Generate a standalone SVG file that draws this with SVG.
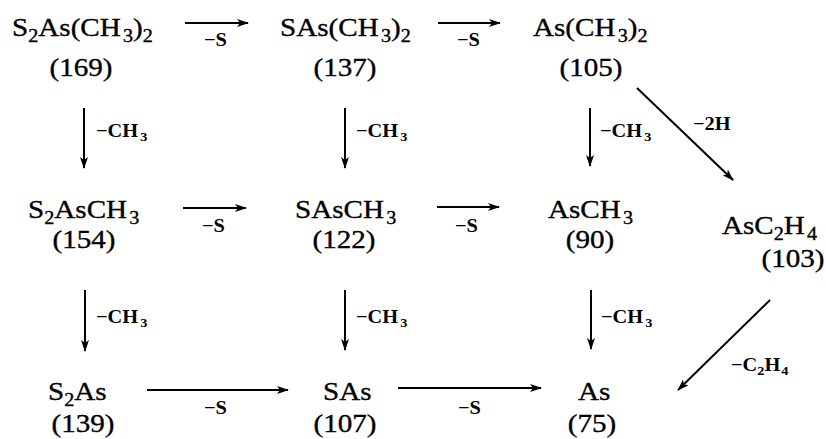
<svg xmlns="http://www.w3.org/2000/svg" width="826" height="439" viewBox="0 0 826 439">
<defs>
<style>
.f{font-family:"Liberation Serif","Times New Roman",serif;font-size:26px;fill:#000;stroke:#000;stroke-width:0.35}
.n{font-family:"Liberation Serif","Times New Roman",serif;font-size:26px;fill:#000;stroke:#000;stroke-width:0.35;text-anchor:middle}
.l{font-family:"Liberation Serif","Times New Roman",serif;font-size:18.5px;font-weight:bold;fill:#000}
.s{font-size:18px}
.ls{font-size:13px}
.c{stroke:#000;stroke-width:2;fill:none;marker-end:url(#ah)}
</style>
<marker id="ah" viewBox="0 0 12 8" refX="11" refY="4" markerWidth="6" markerHeight="4" orient="auto" markerUnits="strokeWidth">
<path d="M0,0 L12,4 L0,8 L3,4 Z" fill="#000"/>
</marker>
</defs>
<rect width="826" height="439" fill="#fff"/>

<g id="n169"><text class="f" transform="translate(12,36) scale(1.12,1)">S<tspan class="s" dy="6">2</tspan><tspan dy="-6">As(CH</tspan><tspan class="s" dx="2" dy="6">3</tspan><tspan dy="-6">)</tspan><tspan class="s" dy="6">2</tspan></text><text class="n" transform="translate(81,76) scale(1.12,1)">(169)</text></g>
<g id="n137"><text class="f" transform="translate(280,36) scale(1.12,1)">SAs(CH<tspan class="s" dx="2" dy="6">3</tspan><tspan dy="-6">)</tspan><tspan class="s" dy="6">2</tspan></text><text class="n" transform="translate(345,76) scale(1.12,1)">(137)</text></g>
<g id="n105"><text class="f" transform="translate(533,36) scale(1.12,1)">As(CH<tspan class="s" dx="2" dy="6">3</tspan><tspan dy="-6">)</tspan><tspan class="s" dy="6">2</tspan></text><text class="n" transform="translate(591,76) scale(1.12,1)">(105)</text></g>

<g id="n154"><text class="f" transform="translate(28,218) scale(1.12,1)">S<tspan class="s" dy="6">2</tspan><tspan dy="-6">AsCH</tspan><tspan class="s" dx="2" dy="6">3</tspan></text><text class="n" transform="translate(84,248) scale(1.12,1)">(154)</text></g>
<g id="n122"><text class="f" transform="translate(295,218) scale(1.12,1)">SAsCH<tspan class="s" dx="2" dy="6">3</tspan></text><text class="n" transform="translate(344,248) scale(1.12,1)">(122)</text></g>
<g id="n90"><text class="f" transform="translate(548,218) scale(1.12,1)">AsCH<tspan class="s" dx="2" dy="6">3</tspan></text><text class="n" transform="translate(590,248) scale(1.12,1)">(90)</text></g>
<g id="n103"><text class="f" transform="translate(722,234) scale(1.12,1)">AsC<tspan class="s" dy="6">2</tspan><tspan dy="-6">H</tspan><tspan class="s" dx="2" dy="6">4</tspan></text><text class="n" transform="translate(793,267) scale(1.12,1)">(103)</text></g>

<g id="n139"><text class="f" transform="translate(48,400) scale(1.12,1)">S<tspan class="s" dy="6">2</tspan><tspan dy="-6">As</tspan></text><text class="n" transform="translate(83,432) scale(1.12,1)">(139)</text></g>
<g id="n107"><text class="f" transform="translate(323,400) scale(1.12,1)">SAs</text><text class="n" transform="translate(345,432) scale(1.12,1)">(107)</text></g>
<g id="n75"><text class="f" transform="translate(578,400) scale(1.12,1)">As</text><text class="n" transform="translate(592,432) scale(1.12,1)">(75)</text></g>

<g id="connectors">
<line class="c" x1="185" y1="23" x2="248" y2="23"/>
<line class="c" x1="438" y1="23" x2="500" y2="23"/>
<line class="c" x1="183" y1="208" x2="246" y2="208"/>
<line class="c" x1="437" y1="207" x2="499" y2="207"/>
<line class="c" x1="147" y1="390" x2="288" y2="390"/>
<line class="c" x1="398" y1="388" x2="541" y2="388"/>
<line class="c" x1="84" y1="108" x2="84" y2="168"/>
<line class="c" x1="345" y1="108" x2="345" y2="168"/>
<line class="c" x1="590" y1="108" x2="590" y2="166"/>
<line class="c" x1="85" y1="290" x2="85" y2="351"/>
<line class="c" x1="345" y1="290" x2="345" y2="350"/>
<line class="c" x1="591" y1="290" x2="591" y2="349"/>
<line class="c" x1="637" y1="88" x2="733" y2="180"/>
<line class="c" x1="770" y1="300" x2="678" y2="390"/>
<text class="l" transform="translate(204,46) scale(1.1,1)">−S</text>
<text class="l" transform="translate(457,46) scale(1.1,1)">−S</text>
<text class="l" transform="translate(202,232) scale(1.1,1)">−S</text>
<text class="l" transform="translate(455,232) scale(1.1,1)">−S</text>
<text class="l" transform="translate(204,414) scale(1.1,1)">−S</text>
<text class="l" transform="translate(458,414) scale(1.1,1)">−S</text>
<text class="l" transform="translate(96,137) scale(1.1,1)">−CH<tspan class="ls" dx="2" dy="4">3</tspan></text>
<text class="l" transform="translate(356,137) scale(1.1,1)">−CH<tspan class="ls" dx="2" dy="4">3</tspan></text>
<text class="l" transform="translate(600,137) scale(1.1,1)">−CH<tspan class="ls" dx="2" dy="4">3</tspan></text>
<text class="l" transform="translate(96,323) scale(1.1,1)">−CH<tspan class="ls" dx="2" dy="4">3</tspan></text>
<text class="l" transform="translate(356,323) scale(1.1,1)">−CH<tspan class="ls" dx="2" dy="4">3</tspan></text>
<text class="l" transform="translate(601,323) scale(1.1,1)">−CH<tspan class="ls" dx="2" dy="4">3</tspan></text>
<text class="l" transform="translate(693,130) scale(1.1,1)">−2H</text>
<text class="l" transform="translate(731,371) scale(1.1,1)">−C<tspan class="ls" dy="4">2</tspan><tspan dy="-4">H</tspan><tspan class="ls" dx="1" dy="4">4</tspan></text>
</g>
</svg>
